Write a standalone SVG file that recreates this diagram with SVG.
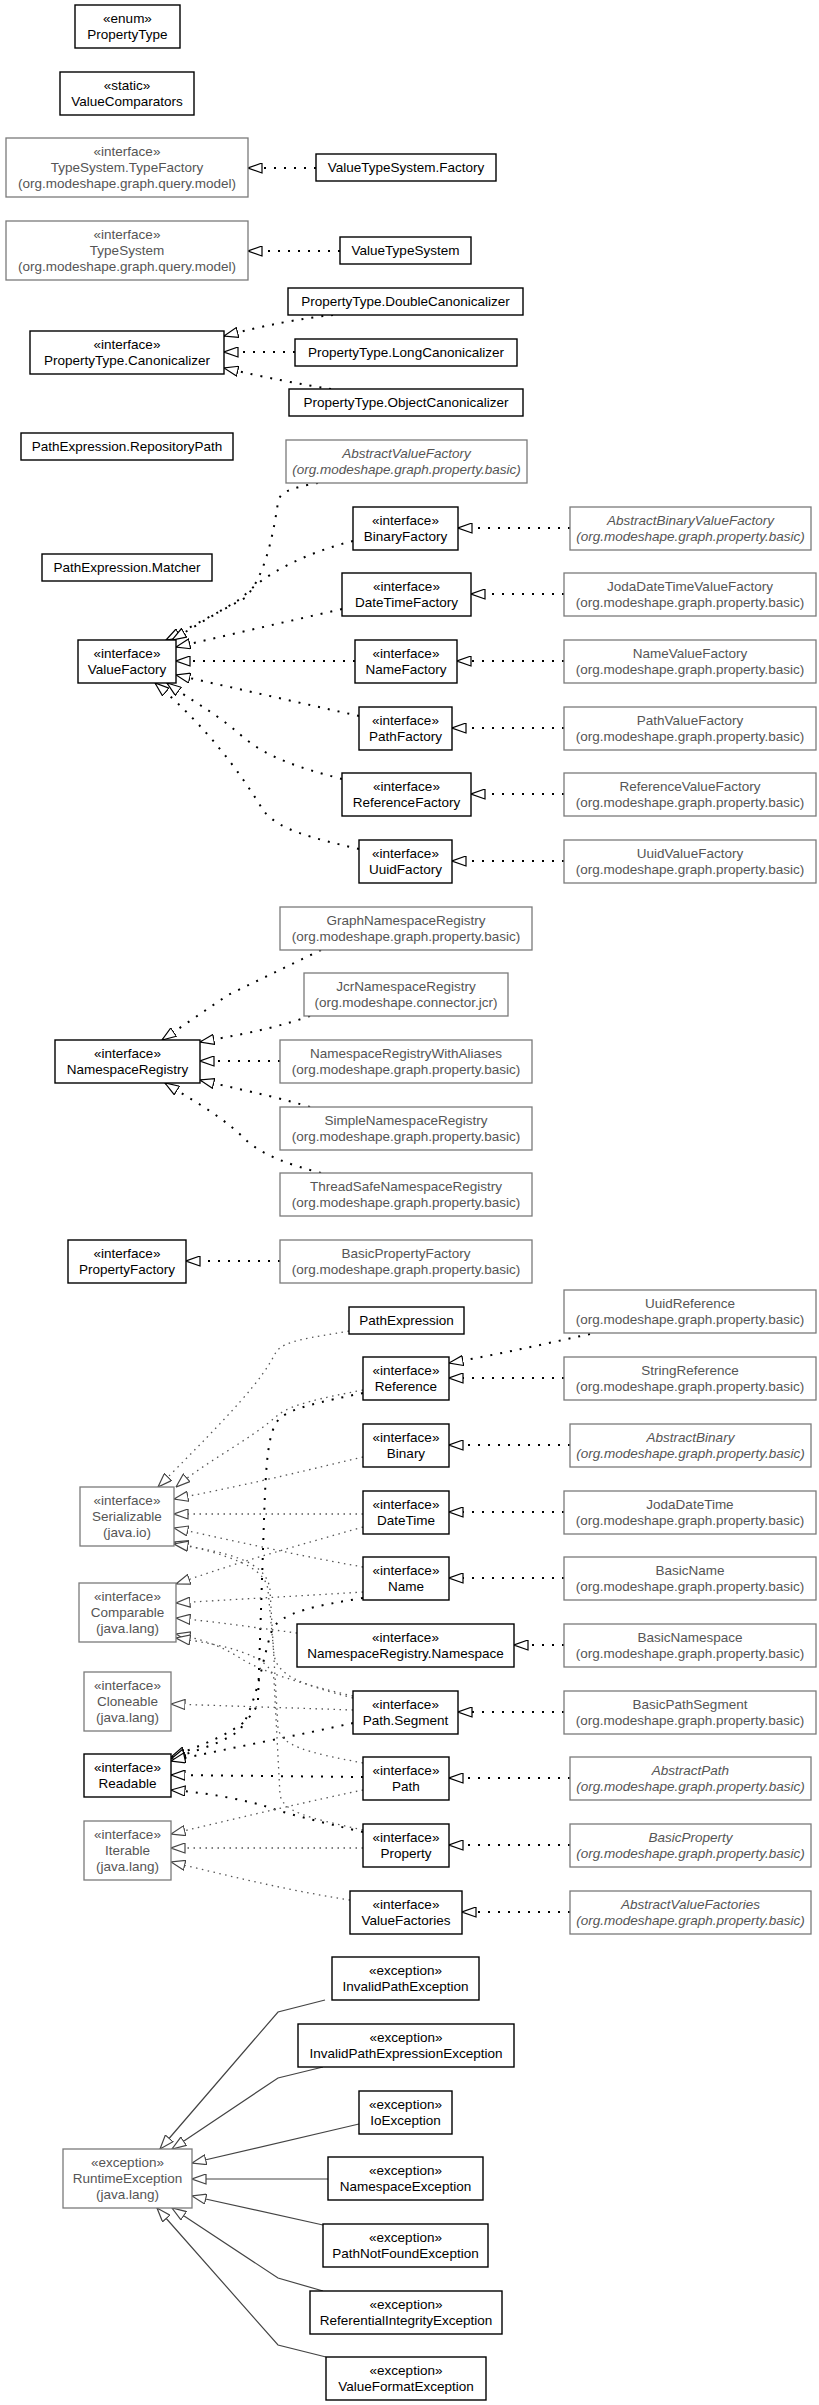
<svg xmlns="http://www.w3.org/2000/svg" width="819" height="2405" viewBox="0 0 819 2405">
<style>
text{font-family:"Liberation Sans",Arial,Helvetica,sans-serif;font-size:13.5px;text-anchor:middle;fill:#000}
.b rect{fill:#fff;stroke:#000;stroke-width:1.4}
.g rect{fill:#fff;stroke:#7a7a7a;stroke-width:1.3}
.g text{fill:#555}
.i text{font-style:italic}
.d{fill:none;stroke:#000;stroke-width:2;stroke-dasharray:2 8;marker-end:url(#tb)}
.t{fill:none;stroke:#555;stroke-width:1.3;stroke-dasharray:1.5 4.5;marker-end:url(#tg)}
.s{fill:none;stroke:#444;stroke-width:1.2;marker-end:url(#tg)}
</style>
<defs>
<marker id="tb" viewBox="0 0 15 11" refX="14.5" refY="5.5" markerWidth="15" markerHeight="11" orient="auto" markerUnits="userSpaceOnUse"><path d="M0.5,0.5 L14.5,5.5 L0.5,10.5 Z" fill="#fff" stroke="#000" stroke-width="1.2"/></marker>
<marker id="tg" viewBox="0 0 15 11" refX="14.5" refY="5.5" markerWidth="15" markerHeight="11" orient="auto" markerUnits="userSpaceOnUse"><path d="M0.5,0.5 L14.5,5.5 L0.5,10.5 Z" fill="#fff" stroke="#444" stroke-width="1.2"/></marker>
</defs>
<rect x="0" y="0" width="819" height="2405" fill="#fff"/>
<g id="connectors">
<path class="d" d="M316,168 L248,168"/>
<path class="d" d="M340,251 L248,251"/>
<path class="d" d="M333,315 Q285,320 224,336"/>
<path class="d" d="M295,352 L224,352"/>
<path class="d" d="M331,389 Q285,382 224,368"/>
<path class="d" d="M318,483 C290,488 280,492 278,502 C272,545 262,580 245,598 L166,640"/>
<path class="d" d="M353,541 C305,553 262,575 242,598 L172,640"/>
<path class="d" d="M342,609 L176,647"/>
<path class="d" d="M355,661 L176,661"/>
<path class="d" d="M359,716 L176,675"/>
<path class="d" d="M342,779 C300,768 268,758 243,737 C215,712 190,700 167,683"/>
<path class="d" d="M359,849 C312,838 278,830 263,810 C240,772 205,725 155,683"/>
<path class="d" d="M570,528 L458,528"/>
<path class="d" d="M564,594 L471,594"/>
<path class="d" d="M564,661 L457,661"/>
<path class="d" d="M564,728 L452,728"/>
<path class="d" d="M564,794 L471,794"/>
<path class="d" d="M564,861 L452,861"/>
<path class="d" d="M321,950 L228,995 L162,1040"/>
<path class="d" d="M310,1016 C270,1030 232,1036 200,1042"/>
<path class="d" d="M280,1061 L200,1061"/>
<path class="d" d="M310,1107 C270,1095 232,1088 200,1080"/>
<path class="d" d="M321,1173 C290,1165 262,1155 246,1140 C222,1116 192,1100 165,1083"/>
<path class="d" d="M280,1261 L186,1261"/>
<path class="d" d="M590,1334 C540,1345 500,1354 449,1363"/>
<path class="d" d="M564,1378 L449,1378"/>
<path class="d" d="M570,1445 L449,1445"/>
<path class="d" d="M564,1512 L449,1512"/>
<path class="d" d="M564,1578 L449,1578"/>
<path class="d" d="M564,1645 L514,1645"/>
<path class="d" d="M564,1712 L458,1712"/>
<path class="d" d="M570,1778 L449,1778"/>
<path class="d" d="M570,1845 L449,1845"/>
<path class="d" d="M570,1912 L462,1912"/>
<path class="d" d="M363,1393 C320,1402 292,1408 280,1418 C268,1430 266,1460 264,1520 L258,1700 C255,1725 215,1740 171,1757"/>
<path class="d" d="M363,1598 C320,1605 280,1612 272,1630 C262,1660 258,1700 240,1730 C220,1745 190,1752 171,1759"/>
<path class="d" d="M353,1723 C300,1735 230,1748 171,1761"/>
<path class="d" d="M363,1777 L171,1775"/>
<path class="d" d="M363,1832 C320,1822 280,1812 262,1805 C230,1797 200,1792 171,1790"/>
<path class="t" d="M349,1331 C310,1338 285,1340 276,1352 C262,1380 235,1410 158,1487"/>
<path class="t" d="M363,1390 C322,1398 292,1404 278,1415 C250,1440 205,1462 176,1487"/>
<path class="t" d="M363,1457 C315,1468 262,1482 174,1499"/>
<path class="t" d="M363,1514 L174,1514"/>
<path class="t" d="M363,1567 C300,1556 235,1541 174,1528"/>
<path class="t" d="M353,1698 C300,1684 278,1676 274,1655 L268,1590 C265,1565 225,1555 174,1542"/>
<path class="t" d="M363,1527 C300,1545 238,1562 176,1584"/>
<path class="t" d="M363,1592 C300,1596 240,1599 176,1603"/>
<path class="t" d="M297,1633 C258,1628 218,1622 176,1618"/>
<path class="t" d="M353,1696 C305,1685 262,1672 240,1658 C220,1645 200,1639 176,1634"/>
<path class="t" d="M363,1763 C305,1752 282,1746 278,1728 L270,1590 C267,1560 225,1552 174,1544"/>
<path class="t" d="M363,1830 C305,1817 284,1812 280,1795 L274,1680 C272,1655 225,1645 176,1638"/>
<path class="t" d="M353,1710 L171,1704"/>
<path class="t" d="M363,1790 C315,1800 250,1815 171,1834"/>
<path class="t" d="M363,1848 L171,1848"/>
<path class="t" d="M350,1900 C285,1890 230,1876 171,1862"/>
<path class="s" d="M325,2000 L278,2012 L160,2149"/>
<path class="s" d="M323,2067 L278,2078 L172,2149"/>
<path class="s" d="M359,2124 L192,2163"/>
<path class="s" d="M328,2179 L192,2179"/>
<path class="s" d="M323,2225 L192,2196"/>
<path class="s" d="M323,2291 L278,2278 L172,2208"/>
<path class="s" d="M326,2357 L278,2345 L157,2208"/>
</g>
<g id="PropertyType" class="b"><rect x="75" y="5" width="105" height="43"/><text x="127.5" y="23">«enum»</text><text x="127.5" y="39">PropertyType</text></g>
<g id="ValueComparators" class="b"><rect x="60" y="72" width="134" height="43"/><text x="127" y="90">«static»</text><text x="127" y="106">ValueComparators</text></g>
<g id="TypeSystem.TypeFactory" class="g"><rect x="6" y="138" width="242" height="59"/><text x="127" y="156">«interface»</text><text x="127" y="172">TypeSystem.TypeFactory</text><text x="127" y="188">(org.modeshape.graph.query.model)</text></g>
<g id="ValueTypeSystem.Factory" class="b"><rect x="316" y="154" width="180" height="27"/><text x="406" y="172">ValueTypeSystem.Factory</text></g>
<g id="TypeSystem" class="g"><rect x="6" y="221" width="242" height="59"/><text x="127" y="239">«interface»</text><text x="127" y="255">TypeSystem</text><text x="127" y="271">(org.modeshape.graph.query.model)</text></g>
<g id="ValueTypeSystem" class="b"><rect x="340" y="237" width="131" height="27"/><text x="405.5" y="255">ValueTypeSystem</text></g>
<g id="PropertyType.DoubleCanonicalizer" class="b"><rect x="288" y="288" width="235" height="27"/><text x="405.5" y="306">PropertyType.DoubleCanonicalizer</text></g>
<g id="PropertyType.Canonicalizer" class="b"><rect x="30" y="331" width="194" height="43"/><text x="127" y="349">«interface»</text><text x="127" y="365">PropertyType.Canonicalizer</text></g>
<g id="PropertyType.LongCanonicalizer" class="b"><rect x="295" y="339" width="222" height="27"/><text x="406" y="357">PropertyType.LongCanonicalizer</text></g>
<g id="PropertyType.ObjectCanonicalizer" class="b"><rect x="289" y="389" width="234" height="27"/><text x="406" y="407">PropertyType.ObjectCanonicalizer</text></g>
<g id="PathExpression.RepositoryPath" class="b"><rect x="21" y="433" width="212" height="27"/><text x="127" y="451">PathExpression.RepositoryPath</text></g>
<g id="AbstractValueFactory" class="g i"><rect x="286" y="440" width="241" height="43"/><text x="406.5" y="458">AbstractValueFactory</text><text x="406.5" y="474">(org.modeshape.graph.property.basic)</text></g>
<g id="BinaryFactory" class="b"><rect x="353" y="507" width="105" height="43"/><text x="405.5" y="525">«interface»</text><text x="405.5" y="541">BinaryFactory</text></g>
<g id="AbstractBinaryValueFactory" class="g i"><rect x="570" y="507" width="241" height="43"/><text x="690.5" y="525">AbstractBinaryValueFactory</text><text x="690.5" y="541">(org.modeshape.graph.property.basic)</text></g>
<g id="PathExpression.Matcher" class="b"><rect x="42" y="554" width="170" height="27"/><text x="127" y="572">PathExpression.Matcher</text></g>
<g id="DateTimeFactory" class="b"><rect x="342" y="573" width="129" height="43"/><text x="406.5" y="591">«interface»</text><text x="406.5" y="607">DateTimeFactory</text></g>
<g id="JodaDateTimeValueFactory" class="g"><rect x="564" y="573" width="252" height="43"/><text x="690" y="591">JodaDateTimeValueFactory</text><text x="690" y="607">(org.modeshape.graph.property.basic)</text></g>
<g id="ValueFactory" class="b"><rect x="78" y="640" width="98" height="43"/><text x="127" y="658">«interface»</text><text x="127" y="674">ValueFactory</text></g>
<g id="NameFactory" class="b"><rect x="355" y="640" width="102" height="43"/><text x="406" y="658">«interface»</text><text x="406" y="674">NameFactory</text></g>
<g id="NameValueFactory" class="g"><rect x="564" y="640" width="252" height="43"/><text x="690" y="658">NameValueFactory</text><text x="690" y="674">(org.modeshape.graph.property.basic)</text></g>
<g id="PathFactory" class="b"><rect x="359" y="707" width="93" height="43"/><text x="405.5" y="725">«interface»</text><text x="405.5" y="741">PathFactory</text></g>
<g id="PathValueFactory" class="g"><rect x="564" y="707" width="252" height="43"/><text x="690" y="725">PathValueFactory</text><text x="690" y="741">(org.modeshape.graph.property.basic)</text></g>
<g id="ReferenceFactory" class="b"><rect x="342" y="773" width="129" height="43"/><text x="406.5" y="791">«interface»</text><text x="406.5" y="807">ReferenceFactory</text></g>
<g id="ReferenceValueFactory" class="g"><rect x="564" y="773" width="252" height="43"/><text x="690" y="791">ReferenceValueFactory</text><text x="690" y="807">(org.modeshape.graph.property.basic)</text></g>
<g id="UuidFactory" class="b"><rect x="359" y="840" width="93" height="43"/><text x="405.5" y="858">«interface»</text><text x="405.5" y="874">UuidFactory</text></g>
<g id="UuidValueFactory" class="g"><rect x="564" y="840" width="252" height="43"/><text x="690" y="858">UuidValueFactory</text><text x="690" y="874">(org.modeshape.graph.property.basic)</text></g>
<g id="GraphNamespaceRegistry" class="g"><rect x="280" y="907" width="252" height="43"/><text x="406" y="925">GraphNamespaceRegistry</text><text x="406" y="941">(org.modeshape.graph.property.basic)</text></g>
<g id="JcrNamespaceRegistry" class="g"><rect x="304" y="973" width="204" height="43"/><text x="406" y="991">JcrNamespaceRegistry</text><text x="406" y="1007">(org.modeshape.connector.jcr)</text></g>
<g id="NamespaceRegistry" class="b"><rect x="55" y="1040" width="145" height="43"/><text x="127.5" y="1058">«interface»</text><text x="127.5" y="1074">NamespaceRegistry</text></g>
<g id="NamespaceRegistryWithAliases" class="g"><rect x="280" y="1040" width="252" height="43"/><text x="406" y="1058">NamespaceRegistryWithAliases</text><text x="406" y="1074">(org.modeshape.graph.property.basic)</text></g>
<g id="SimpleNamespaceRegistry" class="g"><rect x="280" y="1107" width="252" height="43"/><text x="406" y="1125">SimpleNamespaceRegistry</text><text x="406" y="1141">(org.modeshape.graph.property.basic)</text></g>
<g id="ThreadSafeNamespaceRegistry" class="g"><rect x="280" y="1173" width="252" height="43"/><text x="406" y="1191">ThreadSafeNamespaceRegistry</text><text x="406" y="1207">(org.modeshape.graph.property.basic)</text></g>
<g id="PropertyFactory" class="b"><rect x="68" y="1240" width="118" height="43"/><text x="127" y="1258">«interface»</text><text x="127" y="1274">PropertyFactory</text></g>
<g id="BasicPropertyFactory" class="g"><rect x="280" y="1240" width="252" height="43"/><text x="406" y="1258">BasicPropertyFactory</text><text x="406" y="1274">(org.modeshape.graph.property.basic)</text></g>
<g id="UuidReference" class="g"><rect x="564" y="1290" width="252" height="43"/><text x="690" y="1308">UuidReference</text><text x="690" y="1324">(org.modeshape.graph.property.basic)</text></g>
<g id="PathExpression" class="b"><rect x="349" y="1307" width="115" height="27"/><text x="406.5" y="1325">PathExpression</text></g>
<g id="Reference" class="b"><rect x="363" y="1357" width="86" height="43"/><text x="406" y="1375">«interface»</text><text x="406" y="1391">Reference</text></g>
<g id="StringReference" class="g"><rect x="564" y="1357" width="252" height="43"/><text x="690" y="1375">StringReference</text><text x="690" y="1391">(org.modeshape.graph.property.basic)</text></g>
<g id="Binary" class="b"><rect x="363" y="1424" width="86" height="43"/><text x="406" y="1442">«interface»</text><text x="406" y="1458">Binary</text></g>
<g id="AbstractBinary" class="g i"><rect x="570" y="1424" width="241" height="43"/><text x="690.5" y="1442">AbstractBinary</text><text x="690.5" y="1458">(org.modeshape.graph.property.basic)</text></g>
<g id="Serializable" class="g"><rect x="80" y="1487" width="94" height="59"/><text x="127" y="1505">«interface»</text><text x="127" y="1521">Serializable</text><text x="127" y="1537">(java.io)</text></g>
<g id="DateTime" class="b"><rect x="363" y="1491" width="86" height="43"/><text x="406" y="1509">«interface»</text><text x="406" y="1525">DateTime</text></g>
<g id="JodaDateTime" class="g"><rect x="564" y="1491" width="252" height="43"/><text x="690" y="1509">JodaDateTime</text><text x="690" y="1525">(org.modeshape.graph.property.basic)</text></g>
<g id="Name" class="b"><rect x="363" y="1557" width="86" height="43"/><text x="406" y="1575">«interface»</text><text x="406" y="1591">Name</text></g>
<g id="BasicName" class="g"><rect x="564" y="1557" width="252" height="43"/><text x="690" y="1575">BasicName</text><text x="690" y="1591">(org.modeshape.graph.property.basic)</text></g>
<g id="Comparable" class="g"><rect x="79" y="1583" width="97" height="59"/><text x="127.5" y="1601">«interface»</text><text x="127.5" y="1617">Comparable</text><text x="127.5" y="1633">(java.lang)</text></g>
<g id="NamespaceRegistry.Namespace" class="b"><rect x="297" y="1624" width="217" height="43"/><text x="405.5" y="1642">«interface»</text><text x="405.5" y="1658">NamespaceRegistry.Namespace</text></g>
<g id="BasicNamespace" class="g"><rect x="564" y="1624" width="252" height="43"/><text x="690" y="1642">BasicNamespace</text><text x="690" y="1658">(org.modeshape.graph.property.basic)</text></g>
<g id="Cloneable" class="g"><rect x="84" y="1672" width="87" height="59"/><text x="127.5" y="1690">«interface»</text><text x="127.5" y="1706">Cloneable</text><text x="127.5" y="1722">(java.lang)</text></g>
<g id="Path.Segment" class="b"><rect x="353" y="1691" width="105" height="43"/><text x="405.5" y="1709">«interface»</text><text x="405.5" y="1725">Path.Segment</text></g>
<g id="BasicPathSegment" class="g"><rect x="564" y="1691" width="252" height="43"/><text x="690" y="1709">BasicPathSegment</text><text x="690" y="1725">(org.modeshape.graph.property.basic)</text></g>
<g id="Readable" class="b"><rect x="84" y="1754" width="87" height="43"/><text x="127.5" y="1772">«interface»</text><text x="127.5" y="1788">Readable</text></g>
<g id="Path" class="b"><rect x="363" y="1757" width="86" height="43"/><text x="406" y="1775">«interface»</text><text x="406" y="1791">Path</text></g>
<g id="AbstractPath" class="g i"><rect x="570" y="1757" width="241" height="43"/><text x="690.5" y="1775">AbstractPath</text><text x="690.5" y="1791">(org.modeshape.graph.property.basic)</text></g>
<g id="Iterable" class="g"><rect x="84" y="1821" width="87" height="59"/><text x="127.5" y="1839">«interface»</text><text x="127.5" y="1855">Iterable</text><text x="127.5" y="1871">(java.lang)</text></g>
<g id="Property" class="b"><rect x="363" y="1824" width="86" height="43"/><text x="406" y="1842">«interface»</text><text x="406" y="1858">Property</text></g>
<g id="BasicProperty" class="g i"><rect x="570" y="1824" width="241" height="43"/><text x="690.5" y="1842">BasicProperty</text><text x="690.5" y="1858">(org.modeshape.graph.property.basic)</text></g>
<g id="ValueFactories" class="b"><rect x="350" y="1891" width="112" height="43"/><text x="406" y="1909">«interface»</text><text x="406" y="1925">ValueFactories</text></g>
<g id="AbstractValueFactories" class="g i"><rect x="570" y="1891" width="241" height="43"/><text x="690.5" y="1909">AbstractValueFactories</text><text x="690.5" y="1925">(org.modeshape.graph.property.basic)</text></g>
<g id="InvalidPathException" class="b"><rect x="332" y="1957" width="147" height="43"/><text x="405.5" y="1975">«exception»</text><text x="405.5" y="1991">InvalidPathException</text></g>
<g id="InvalidPathExpressionException" class="b"><rect x="298" y="2024" width="216" height="43"/><text x="406" y="2042">«exception»</text><text x="406" y="2058">InvalidPathExpressionException</text></g>
<g id="IoException" class="b"><rect x="359" y="2091" width="93" height="43"/><text x="405.5" y="2109">«exception»</text><text x="405.5" y="2125">IoException</text></g>
<g id="RuntimeException" class="g"><rect x="63" y="2149" width="129" height="59"/><text x="127.5" y="2167">«exception»</text><text x="127.5" y="2183">RuntimeException</text><text x="127.5" y="2199">(java.lang)</text></g>
<g id="NamespaceException" class="b"><rect x="328" y="2157" width="155" height="43"/><text x="405.5" y="2175">«exception»</text><text x="405.5" y="2191">NamespaceException</text></g>
<g id="PathNotFoundException" class="b"><rect x="323" y="2224" width="165" height="43"/><text x="405.5" y="2242">«exception»</text><text x="405.5" y="2258">PathNotFoundException</text></g>
<g id="ReferentialIntegrityException" class="b"><rect x="310" y="2291" width="192" height="43"/><text x="406" y="2309">«exception»</text><text x="406" y="2325">ReferentialIntegrityException</text></g>
<g id="ValueFormatException" class="b"><rect x="326" y="2357" width="160" height="43"/><text x="406" y="2375">«exception»</text><text x="406" y="2391">ValueFormatException</text></g>
</svg>
